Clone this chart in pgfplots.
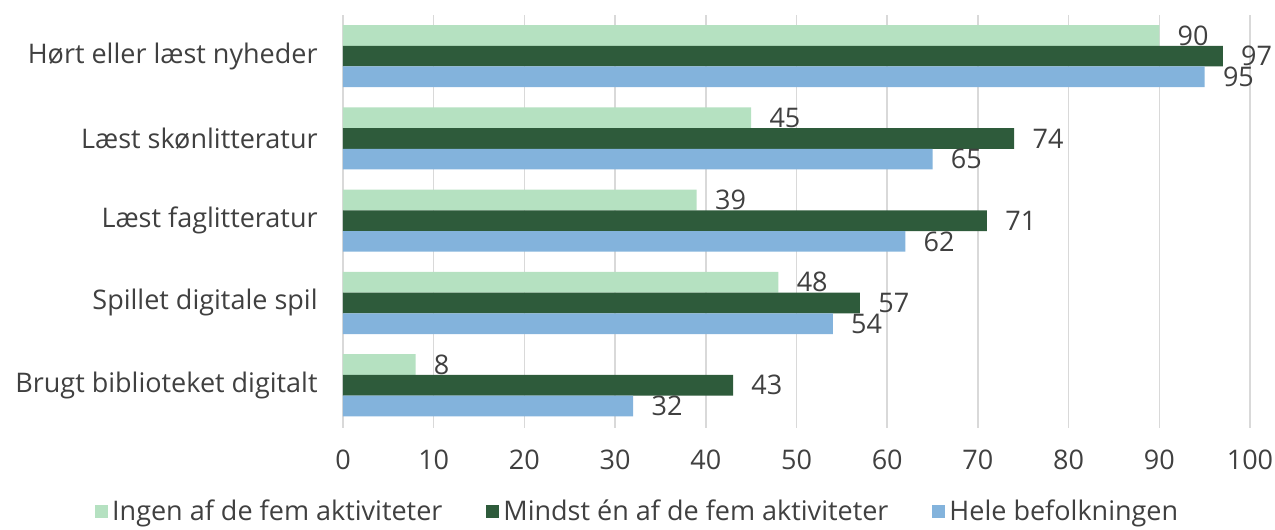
\documentclass[border=0pt]{standalone}
\usepackage{fontspec}
\setmainfont{Open Sans}
\usepackage{pgfplots}
\pgfplotsset{compat=1.18}
\definecolor{ingen}{HTML}{B5E1C1}
\definecolor{mindst}{HTML}{2E5B3B}
\definecolor{hele}{HTML}{83B3DC}
\definecolor{txt}{HTML}{404040}
\definecolor{gridc}{HTML}{D9D9D9}
\newcommand{\lblfont}{\fontsize{13.5}{16}\selectfont}

\begin{document}
\begin{tikzpicture}
\begin{axis}[
    name=ax,
    scale only axis,
    width=453.5pt, height=206.5pt,
    xbar=0pt,
    bar width=10.35pt,
    xmin=0, xmax=100,
    ymin=-0.5, ymax=4.52,
    y dir=reverse,
    xtick={0,10,...,100},
    ytick={0,...,4},
    yticklabels={Hørt eller læst nyheder, Læst skønlitteratur, Læst faglitteratur, Spillet digitale spil, Brugt biblioteket digitalt},
    xmajorgrids,
    grid style={gridc, line width=0.8pt},
    axis line style={draw=none},
    major tick length=0pt,
    tick label style={font=\lblfont, text=txt, inner sep=0pt},
    yticklabel style={xshift=-12.5pt},
    xticklabel style={yshift=-11pt},
    /pgf/number format/assume math mode=true,
    nodes near coords,
    every node near coord/.append style={font=\lblfont, text=txt, anchor=west, inner sep=0pt, xshift=9pt},
    legend style={at={(0.326,-0.203)}, anchor=center, draw=none, legend columns=3,
        font=\lblfont, text=txt, inner sep=0pt,
        /tikz/every even column/.append style={column sep=20pt}},
    legend image code/.code={\fill[#1] (0pt,-3.3pt) rectangle (6.5pt,3.3pt);},
]
\addplot[fill=ingen, draw=none, bar shift=10.35pt] coordinates {(90,0) (45,1) (39,2) (48,3) (8,4)};
\addplot[fill=mindst, draw=none, bar shift=0pt] coordinates {(97,0) (74,1) (71,2) (57,3) (43,4)};
\addplot[fill=hele, draw=none, bar shift=-10.35pt] coordinates {(95,0) (65,1) (62,2) (54,3) (32,4)};
\legend{Ingen af de fem aktiviteter, Mindst én af de fem aktiviteter, Hele befolkningen}
\end{axis}
\pgfresetboundingbox
\path[use as bounding box] ([shift={(-171.5pt,-51pt)}]ax.south west) rectangle ([shift={(12.5pt,7.5pt)}]ax.north east);
\end{tikzpicture}
\end{document}
